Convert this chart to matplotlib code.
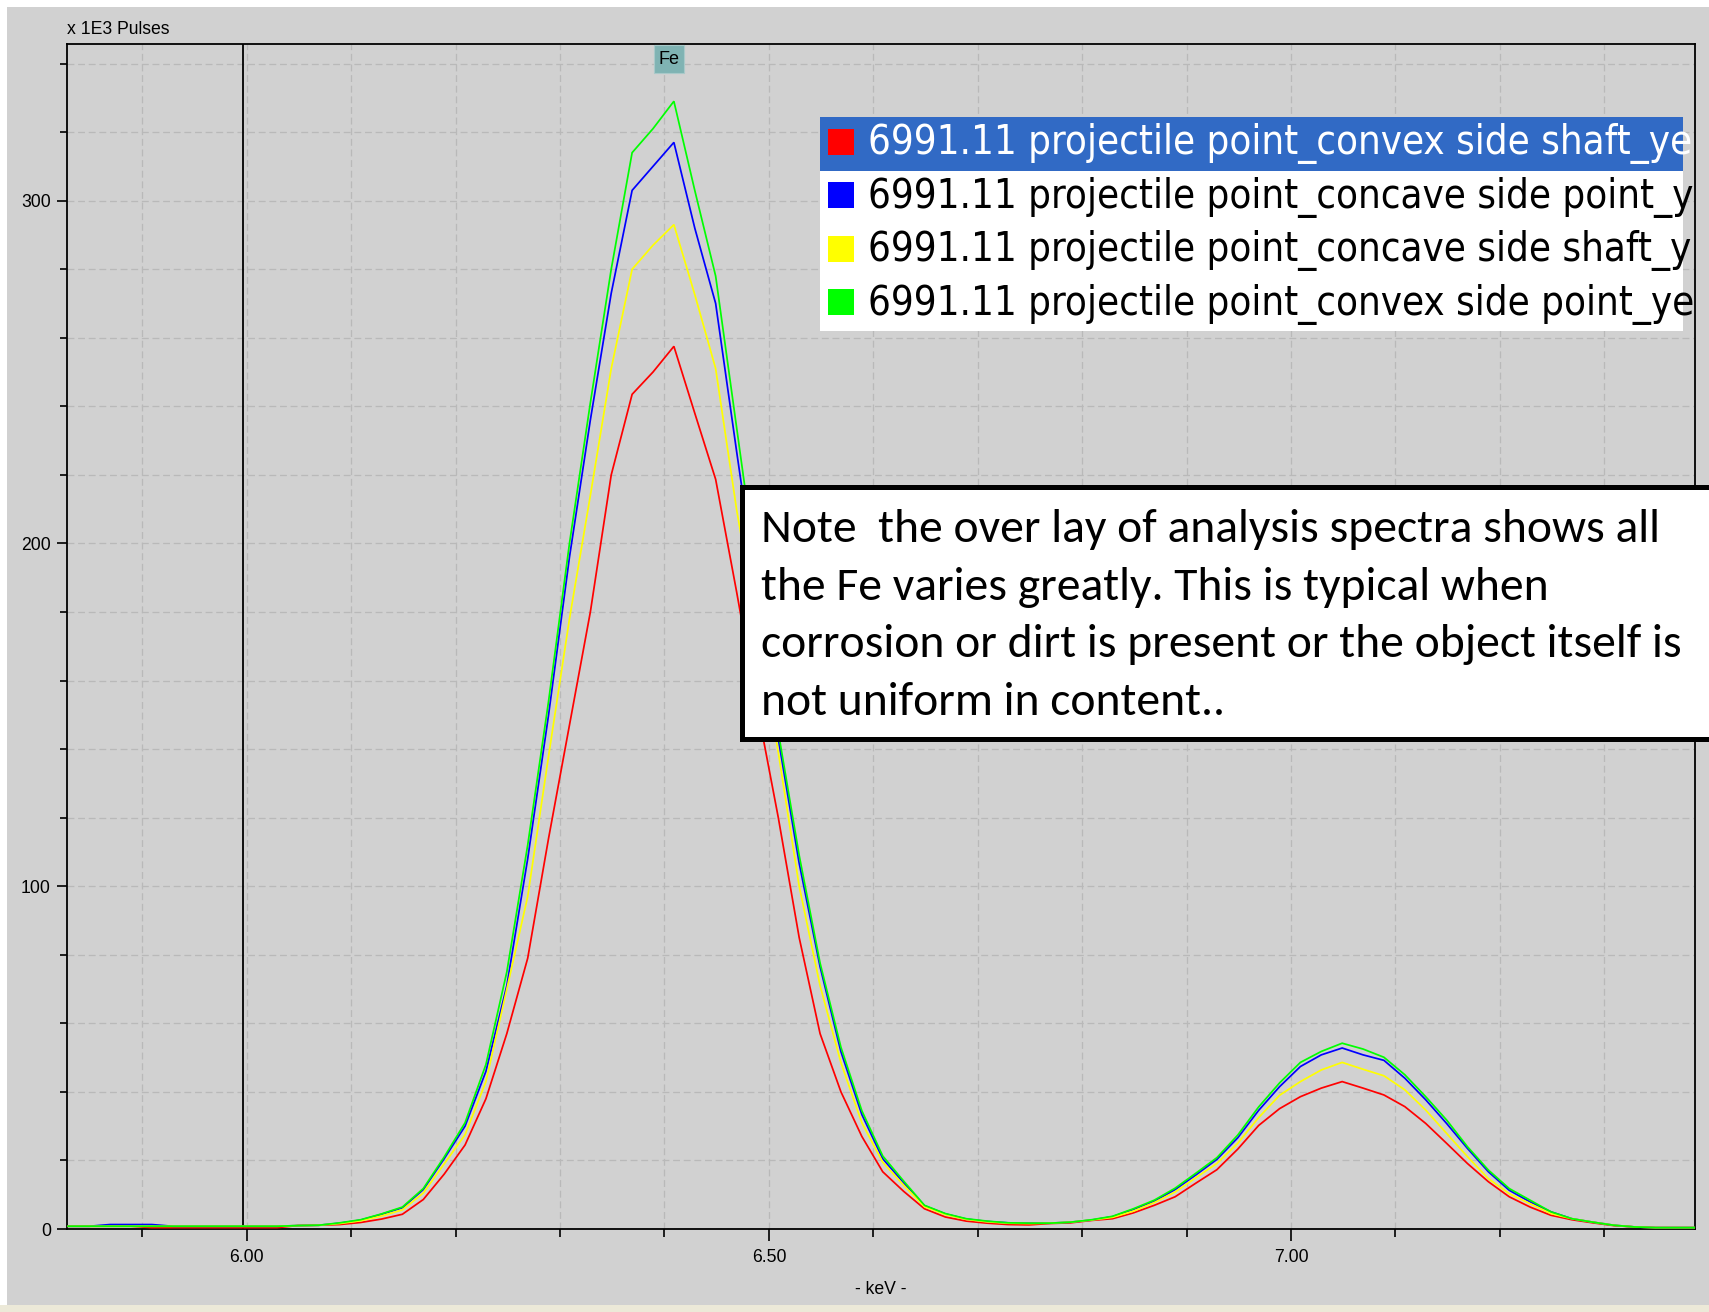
import numpy as np
import matplotlib
matplotlib.use("Agg")
import matplotlib.pyplot as plt
from matplotlib.patches import Rectangle
from matplotlib.ticker import MultipleLocator, FixedLocator
from matplotlib import font_manager as fm
from matplotlib import transforms

# ---------------- data ----------------
channel_start_kev = 5.829
channel_width_kev = 0.02
n_channels = 79
energy_kev = np.round(channel_start_kev + channel_width_kev * np.arange(n_channels), 3)

counts_red = [0.8, 0.8, 0.8, 0.8, 0.4, 0.4, 0.4, 0.4, 0.4, 0.4, 0.4, 1.0, 1.1, 1.3, 1.9,
              2.9, 4.3, 8.6, 16, 24.5, 38, 57, 79, 114, 147, 180, 220, 243.5, 250, 257.5,
              238, 218.7, 186, 152, 120, 85, 57, 40, 27, 16.7, 11, 5.9, 3.5, 2.3, 1.7,
              1.3, 1.2, 1.6, 1.8, 2.5, 3.0, 4.7, 6.9, 9.4, 13.4, 17.3, 23.3, 30.2, 35.1,
              38.6, 41.1, 43, 41.1, 39.1, 35.7, 30.8, 25, 19.1, 13.8, 9.4, 6.4, 4.0, 2.7,
              1.8, 1.0, 0.6, 0.4, 0.4, 0.4]
counts_blue = [0.8, 0.8, 1.3, 1.3, 1.3, 0.8, 0.8, 0.8, 0.8, 0.8, 0.8, 1.0, 1.1, 1.7, 2.6,
               4.3, 6.2, 11.5, 20.5, 30, 46, 71, 108, 150, 196, 236, 273, 303, 310, 317,
               292, 270, 227, 185, 143, 106.7, 76.5, 51.7, 33.4, 20.5, 13.5, 6.8, 4.4, 2.9, 2.2,
               1.8, 1.7, 1.7, 2.0, 2.6, 3.6, 5.7, 8.1, 11.5, 15.8, 20.3, 26.6, 34.6, 41.5,
               47.4, 50.8, 52.8, 50.8, 49.2, 44, 37.7, 30.8, 23.5, 16.7, 11.3, 7.9, 5.0, 3.0,
               2.0, 1.1, 0.6, 0.4, 0.4, 0.4]
counts_yellow = [0.8, 0.8, 0.8, 0.8, 0.8, 0.8, 0.8, 0.8, 0.8, 0.8, 0.8, 1.0, 1.1, 1.6, 2.4,
                 3.8, 5.6, 10.5, 19, 27.5, 43, 70, 97, 138, 178, 214, 251, 280, 287, 293,
                 272.6, 251, 210, 175, 139, 100, 71, 48.5, 31, 19.5, 12.8, 6.5, 4.2, 2.8, 2.1,
                 1.7, 1.6, 1.7, 2.0, 2.6, 3.4, 5.2, 7.7, 10.8, 15, 19.1, 25, 32.5, 39,
                 43, 46.4, 48.6, 46.6, 44.7, 40.6, 34.7, 27.9, 21.1, 14.7, 10.3, 7.4, 4.5, 3.0,
                 2.0, 1.1, 0.6, 0.4, 0.4, 0.4]
counts_green = [0.8, 0.8, 0.8, 0.8, 0.8, 0.8, 0.8, 0.8, 0.8, 0.8, 0.8, 1.0, 1.1, 1.8, 2.7,
                4.4, 6.4, 11.8, 21, 31, 48, 75, 112, 154, 200, 241, 280, 314, 321, 329,
                303, 278, 234, 190, 145, 109, 77.6, 53, 34.5, 21.3, 14, 6.9, 4.5, 3.0, 2.3,
                1.8, 1.7, 1.7, 2.0, 2.7, 3.7, 5.9, 8.4, 11.9, 16.3, 20.8, 27.4, 35.6, 42.6,
                48.6, 51.8, 54.2, 52.5, 50.1, 45, 38.6, 31.8, 24, 17.2, 11.8, 8.4, 5.0, 3.0,
                2.0, 1.1, 0.6, 0.4, 0.4, 0.4]

series_counts = [counts_red, counts_blue, counts_yellow, counts_green]
series_colors = ["#ff0000", "#0000ff", "#ffff00", "#00ff00"]
series_labels = ["6991.11 projectile point_convex side shaft_ye",
                 "6991.11 projectile point_concave side point_y",
                 "6991.11 projectile point_concave side shaft_y",
                 "6991.11 projectile point_convex side point_ye"]

x_major_ticks = [6.0, 6.5, 7.0]
x_major_labels = ["6.00", "6.50", "7.00"]
y_major_ticks = [0, 100, 200, 300]
y_major_labels = ["0", "100", "200", "300"]
x_limits = (5.8278, 7.3869)
y_limits = (0, 345.7)
marker_kev = 5.996
fe_label_kev = 6.404

y_unit_label = "x 1E3 Pulses"
x_axis_label = "- keV -"
note_lines = ["Note  the over lay of analysis spectra shows all",
              "the Fe varies greatly. This is typical when",
              "corrosion or dirt is present or the object itself is",
              "not uniform in content.."]

# ---------------- fonts ----------------
names = {f.name for f in fm.fontManager.ttflist}


def first_family(*cands):
    for c in cands:
        if c in names:
            return c
    return "DejaVu Sans"


def condensed_font():
    if "Liberation Sans Narrow" in names:
        return fm.FontProperties(family="Liberation Sans Narrow")
    for fam in ["DejaVu Sans", "Noto Sans", "Open Sans", "Roboto", "Liberation Sans"]:
        for f in fm.fontManager.ttflist:
            if (f.name == fam and f.style == "normal" and str(f.weight) in ("400", "normal", "regular")
                    and str(f.stretch) in ("condensed", "semi-condensed")):
                return fm.FontProperties(fname=f.fname)
    return fm.FontProperties(family=first_family("Liberation Sans", "DejaVu Sans"))


axis_family = first_family("Liberation Sans", "Arial", "DejaVu Sans")
note_family = first_family("Carlito", "Lato", "Open Sans", "DejaVu Sans")
legend_fp = condensed_font()

# ---------------- figure ----------------
W, H = 1709, 1312
DPI = 100
fig = plt.figure(figsize=(W / DPI, H / DPI), dpi=DPI, facecolor="white")

bg = fig.add_axes([0, 0, 1, 1], zorder=0)
bg.set_xlim(0, W)
bg.set_ylim(H, 0)
bg.axis("off")
bg.add_patch(Rectangle((7, 7), W - 7, 1298, facecolor="#d1d1d1", edgecolor="none"))
bg.add_patch(Rectangle((0, 1305), W, 7, facecolor="#ece9d8", edgecolor="none"))

ax_left, ax_right, ax_top, ax_bottom = 67, 1695, 44, 1229
ax = fig.add_axes([ax_left / W, 1 - ax_bottom / H, (ax_right - ax_left) / W, (ax_bottom - ax_top) / H],
                  zorder=5)
ax.set_facecolor("none")

for counts, color in zip(series_counts, series_colors):
    ax.plot(energy_kev, counts, color=color, lw=1.25, zorder=3, solid_joinstyle="miter")

ax.axvline(marker_kev, color="black", lw=1.3, zorder=2)

ax.set_xlim(*x_limits)
ax.set_ylim(*y_limits)
ax.xaxis.set_major_locator(FixedLocator(x_major_ticks))
ax.set_xticklabels(x_major_labels)
ax.xaxis.set_minor_locator(MultipleLocator(0.1))
ax.yaxis.set_major_locator(FixedLocator(y_major_ticks))
ax.set_yticklabels(y_major_labels)
ax.yaxis.set_minor_locator(MultipleLocator(20))
ax.grid(which="both", linestyle=(0, (5.5, 3.0)), color="#b9b9b9", lw=0.9)
ax.set_axisbelow(True)

for sp in ax.spines.values():
    sp.set_color("black")
    sp.set_linewidth(1.3)

ax.tick_params(axis="y", which="major", direction="out", length=7.2, width=1.2, pad=4.5,
               labelsize=12.7, colors="black")
ax.tick_params(axis="y", which="minor", direction="out", length=4.8, width=1.2)
ax.tick_params(axis="x", which="major", direction="out", length=8.6, width=1.2, pad=6.0,
               labelsize=12.7, colors="black")
ax.tick_params(axis="x", which="minor", direction="out", length=5.8, width=1.2)
for lab in ax.get_xticklabels() + ax.get_yticklabels():
    lab.set_family(axis_family)

# ---------------- overlay (pixel coordinates) ----------------
fg = fig.add_axes([0, 0, 1, 1], zorder=10)
fg.set_xlim(0, W)
fg.set_ylim(H, 0)
fg.axis("off")
fg.patch.set_alpha(0)

fg.text(67, 29, y_unit_label, ha="left", va="center", fontsize=12.7, family=axis_family, color="black")
fg.text((ax_left + ax_right) / 2, 1290, x_axis_label, ha="center", va="center", fontsize=12.7,
        family=axis_family, color="black")

# Fe marker label
blend = transforms.blended_transform_factory(ax.transData, fg.transData)
fe_w = 30 / ((ax_right - ax_left) / (x_limits[1] - x_limits[0]))
fg.add_patch(Rectangle((fe_label_kev - fe_w / 2, 45), fe_w, 28, transform=blend,
                       facecolor="#7fb3b3", edgecolor="#a9c9c9", lw=0.8, zorder=4))
fg.text(fe_label_kev, 59.5, "Fe", transform=blend, ha="center", va="center", fontsize=13,
        family=axis_family, color="black", zorder=5)

# Legend
renderer = fig.canvas.get_renderer()
leg_x0, leg_y0, leg_w, row_h = 820, 117, 863, 53.5
fg.add_patch(Rectangle((leg_x0, leg_y0 + row_h), leg_w, 3 * row_h, facecolor="white", edgecolor="none", zorder=2))
fg.add_patch(Rectangle((leg_x0, leg_y0), leg_w, row_h, facecolor="#316ac5", edgecolor="none", zorder=2))
clip_rect = Rectangle((leg_x0, leg_y0), leg_w, 4 * row_h, transform=fg.transData, facecolor="none")

probe = fg.text(0, 0, "6991.11 projectile point_concave side point_", fontproperties=legend_fp, fontsize=30)
pw = probe.get_window_extent(renderer).width
legend_size = 30 * 803.0 / pw
probe.remove()

for i, (label, color) in enumerate(zip(series_labels, series_colors)):
    base = 154.3 + i * row_h
    fg.add_patch(Rectangle((828, base - 25.5), 26, 26, facecolor=color, edgecolor="none", zorder=3))
    t = fg.text(868, base, label, ha="left", va="baseline", fontproperties=legend_fp,
                fontsize=legend_size, color="white" if i == 0 else "black", zorder=4)
    t.set_clip_path(clip_rect)

# Note box
fg.add_patch(Rectangle((742, 487), 1100, 252, facecolor="white", edgecolor="black", lw=3.6, zorder=6))
probe = fg.text(0, 0, note_lines[0], family=note_family, fontsize=30)
pw = probe.get_window_extent(renderer).width
note_size = 30 * 899.0 / pw
probe.remove()
for i, line in enumerate(note_lines):
    fg.text(761, 541.7 + i * 57.8, line, ha="left", va="baseline", family=note_family,
            fontsize=note_size, color="black", zorder=7)

fig.savefig("out.png", dpi=DPI, facecolor=fig.get_facecolor())
